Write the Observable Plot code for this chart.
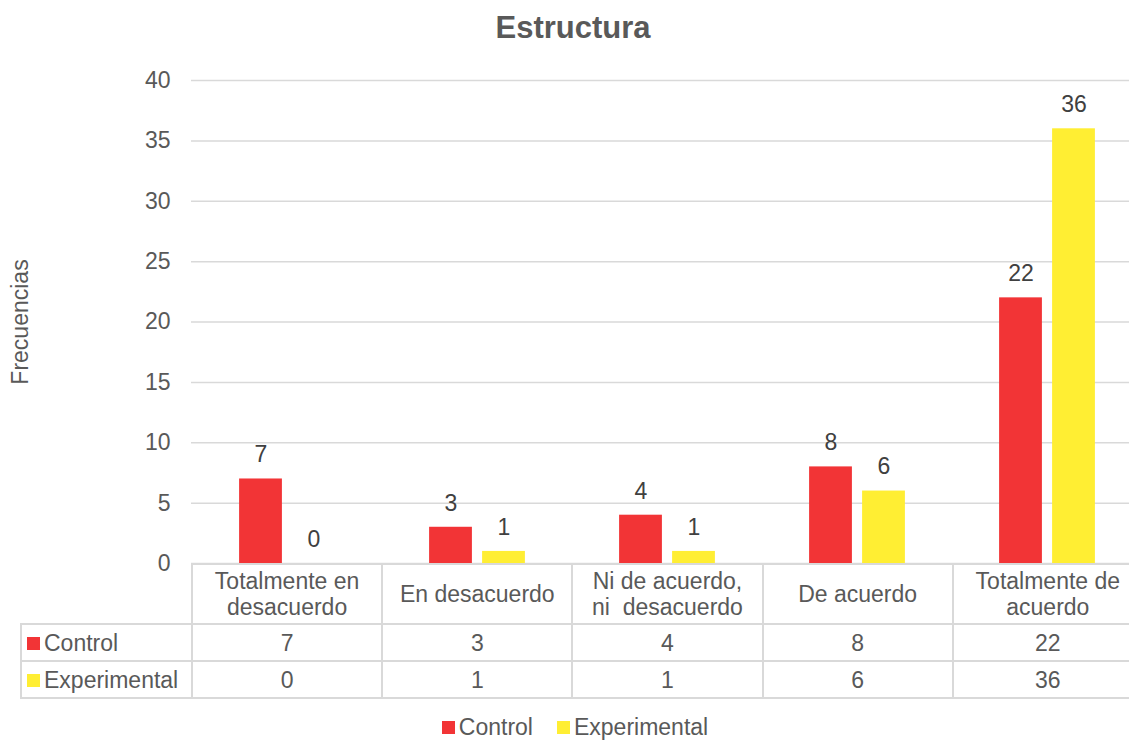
<!DOCTYPE html>
<html><head><meta charset="utf-8">
<script src="https://cdn.jsdelivr.net/npm/d3@7"></script>
<script src="https://cdn.jsdelivr.net/npm/@observablehq/plot@0.6"></script>
<style>
html,body{margin:0;padding:0;background:#fff;overflow:hidden;width:1129px;height:740px;}
body{font-family:"Liberation Sans",Arial,sans-serif;color:#595959;position:relative;}
#title{position:absolute;left:0;width:1146px;top:10px;text-align:center;font-weight:bold;font-size:31px;color:#595959;line-height:36px;}
#chart{position:absolute;left:0;top:0;}
table{position:absolute;left:20px;top:563px;width:1122px;border-collapse:collapse;table-layout:fixed;font-size:23px;color:#595959;}
td{border:2px solid #D9D9D9;text-align:center;padding:0;line-height:26px;white-space:pre;}
td.hd{height:58px;}
td.rw{height:35px;}
td.name{text-align:left;padding-left:5px;}
td.blank{border:none;}
.sw{display:inline-block;width:13px;height:13px;margin-right:4px;vertical-align:1px;}
#legend{position:absolute;left:0;width:1150px;top:714px;text-align:center;font-size:23px;color:#595959;white-space:pre;}
#legend span.item{margin:0 12px;}
</style></head><body>
<div id="title">Estructura</div>
<div id="chart"></div>
<div id="legend"></div>
<script>
const categories = ["Totalmente en desacuerdo","En desacuerdo","Ni de acuerdo, ni  desacuerdo","De acuerdo","Totalmente de acuerdo"];
const tableLabels = [["Totalmente en","desacuerdo"],["En desacuerdo"],["Ni de acuerdo,","ni  desacuerdo"],["De acuerdo"],["Totalmente de","acuerdo"]];
const series = ["Control","Experimental"];
const control = [7,3,4,8,22];
const experimental = [0,1,1,6,36];
const colors = ["#F23436","#FFEE33"];
const yTicks = [0,5,10,15,20,25,30,35,40];

const rowsC = categories.map((c,i)=>({cat:c, v:control[i]}));
const rowsE = categories.map((c,i)=>({cat:c, v:experimental[i]}));

const band = 190.2, bw = 43, off = 26.5;
const side = (band-bw)/2;

const plot = Plot.plot({
  width:1129, height:740,
  marginTop:80, marginBottom:177, marginLeft:191, marginRight:0,
  style:{fontFamily:'"Liberation Sans",Arial,sans-serif', fontSize:"23px", color:"#595959", overflow:"visible"},
  x:{domain:categories, range:[191,1142], padding:0, axis:null},
  y:{domain:[0,40], ticks:yTicks, label:"Frecuencias", labelAnchor:"center", labelArrow:"none", labelOffset:180, tickSize:0, tickPadding:21},
  marks:[
    Plot.ruleY(yTicks,{stroke:"#D9D9D9", strokeWidth:1.5}),
    Plot.barY(rowsC,{x:"cat", y:"v", fill:colors[0], insetLeft:side-off, insetRight:side+off}),
    Plot.barY(rowsE,{x:"cat", y:"v", fill:colors[1], insetLeft:side+off, insetRight:side-off}),
    Plot.text(rowsC,{x:"cat", y:"v", text:d=>String(d.v), dx:-off, dy:-24, fill:"#404040", fontSize:23}),
    Plot.text(rowsE,{x:"cat", y:"v", text:d=>String(d.v), dx:off, dy:-24, fill:"#404040", fontSize:23})
  ]
});
document.getElementById("chart").appendChild(plot);

// data table
const t = document.createElement("table");
const colgroup = document.createElement("colgroup");
[171,...categories.map(()=>band)].forEach(w=>{const c=document.createElement("col");c.style.width=w+"px";colgroup.appendChild(c);});
t.appendChild(colgroup);
const hr = t.insertRow();
const b = hr.insertCell(); b.className="blank";
tableLabels.forEach(lines=>{const c=hr.insertCell(); c.className="hd"; c.textContent=lines.join("\n");});
[control,experimental].forEach((vals,si)=>{
  const r=t.insertRow();
  const n=r.insertCell(); n.className="name rw";
  n.innerHTML=`<span class="sw" style="background:${colors[si]}"></span>${series[si]}`;
  vals.forEach(v=>{const c=r.insertCell(); c.className="rw"; c.textContent=v;});
});
document.body.appendChild(t);

document.getElementById("legend").innerHTML = series.map((s,i)=>`<span class="item"><span class="sw" style="background:${colors[i]}"></span>${s}</span>`).join("");
</script>
</body></html>
